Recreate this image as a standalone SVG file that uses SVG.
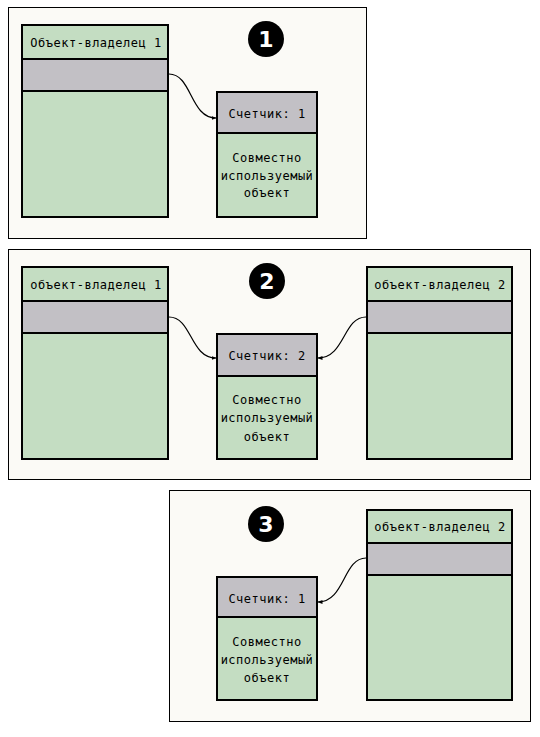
<svg xmlns="http://www.w3.org/2000/svg" width="540" height="737" viewBox="0 0 540 737">
<defs>
<style>
.panel{fill:#fbfaf6;stroke:#000;stroke-width:1}
.green{fill:#c4ddc2;stroke:#000;stroke-width:2}
.gray{fill:#c2c0c5;stroke:#000;stroke-width:2}
.t{font-family:"DejaVu Sans Mono","Liberation Mono",monospace;font-size:12px;letter-spacing:0.5px;fill:#000;text-anchor:middle}
.num{font-family:"DejaVu Sans","Liberation Sans",sans-serif;font-size:22px;font-weight:bold;fill:#fff;text-anchor:middle}
.conn{fill:none;stroke:#000;stroke-width:1.2}
</style>
<marker id="arr" viewBox="0 0 10 10" refX="9" refY="5" markerWidth="5" markerHeight="5" orient="auto" markerUnits="userSpaceOnUse">
<path d="M0,1 L10,5 L0,9 z" fill="#000"/>
</marker>
</defs>
<rect width="540" height="737" fill="#ffffff"/>

<g id="panel1">
<rect class="panel" x="8.5" y="7.5" width="358" height="231"/>
<g id="badge1"><circle cx="266" cy="39" r="18" fill="#000"/><text class="num" x="266" y="47">1</text></g>
<g id="owner1-p1">
<rect class="green" x="22" y="25" width="146" height="192"/>
<rect class="gray" x="22" y="59" width="146" height="32"/>
<text class="t" x="96" y="47">Объект-владелец 1</text>
</g>
<g id="shared-p1">
<rect class="green" x="217" y="92" width="100" height="125"/>
<rect class="gray" x="217" y="92" width="100" height="41"/>
<text class="t" x="267" y="118">Счетчик: 1</text>
<text class="t" x="267" y="162">Совместно</text>
<text class="t" x="267" y="180">используемый</text>
<text class="t" x="267" y="197">объект</text>
</g>
</g>

<g id="panel2">
<rect class="panel" x="8.5" y="249.5" width="522" height="230"/>
<g id="badge2"><circle cx="267" cy="281" r="18" fill="#000"/><text class="num" x="267" y="289">2</text></g>
<g id="owner1-p2">
<rect class="green" x="22" y="267" width="146" height="192"/>
<rect class="gray" x="22" y="301" width="146" height="32"/>
<text class="t" x="96" y="289">объект-владелец 1</text>
</g>
<g id="shared-p2">
<rect class="green" x="217" y="334" width="100" height="125"/>
<rect class="gray" x="217" y="334" width="100" height="42"/>
<text class="t" x="267" y="360">Счетчик: 2</text>
<text class="t" x="267" y="404">Совместно</text>
<text class="t" x="267" y="422">используемый</text>
<text class="t" x="267" y="441">объект</text>
</g>
<g id="owner2-p2">
<rect class="green" x="367" y="267" width="145" height="192"/>
<rect class="gray" x="367" y="301" width="145" height="32"/>
<text class="t" x="440" y="289">объект-владелец 2</text>
</g>
</g>

<g id="panel3">
<rect class="panel" x="169.5" y="490.5" width="361" height="231"/>
<g id="badge3"><circle cx="266" cy="524" r="18" fill="#000"/><text class="num" x="266" y="532">3</text></g>
<g id="shared-p3">
<rect class="green" x="217" y="577" width="100" height="123"/>
<rect class="gray" x="217" y="577" width="100" height="40"/>
<text class="t" x="267" y="603">Счетчик: 1</text>
<text class="t" x="267" y="646">Совместно</text>
<text class="t" x="267" y="664">используемый</text>
<text class="t" x="267" y="682">объект</text>
</g>
<g id="owner2-p3">
<rect class="green" x="367" y="510" width="145" height="190"/>
<rect class="gray" x="367" y="543" width="145" height="32"/>
<text class="t" x="440" y="531">объект-владелец 2</text>
</g>
</g>

<g id="connectors">
<path class="conn" marker-end="url(#arr)" d="M169,74 C192,74 190,118 216,118"/>
<path class="conn" marker-end="url(#arr)" d="M169,317 C192,317 190,358 216,358"/>
<path class="conn" marker-end="url(#arr)" d="M366,317 C343,317 345,358 318,358"/>
<path class="conn" marker-end="url(#arr)" d="M366,558 C343,558 345,602 318,602"/>
</g>
</svg>
